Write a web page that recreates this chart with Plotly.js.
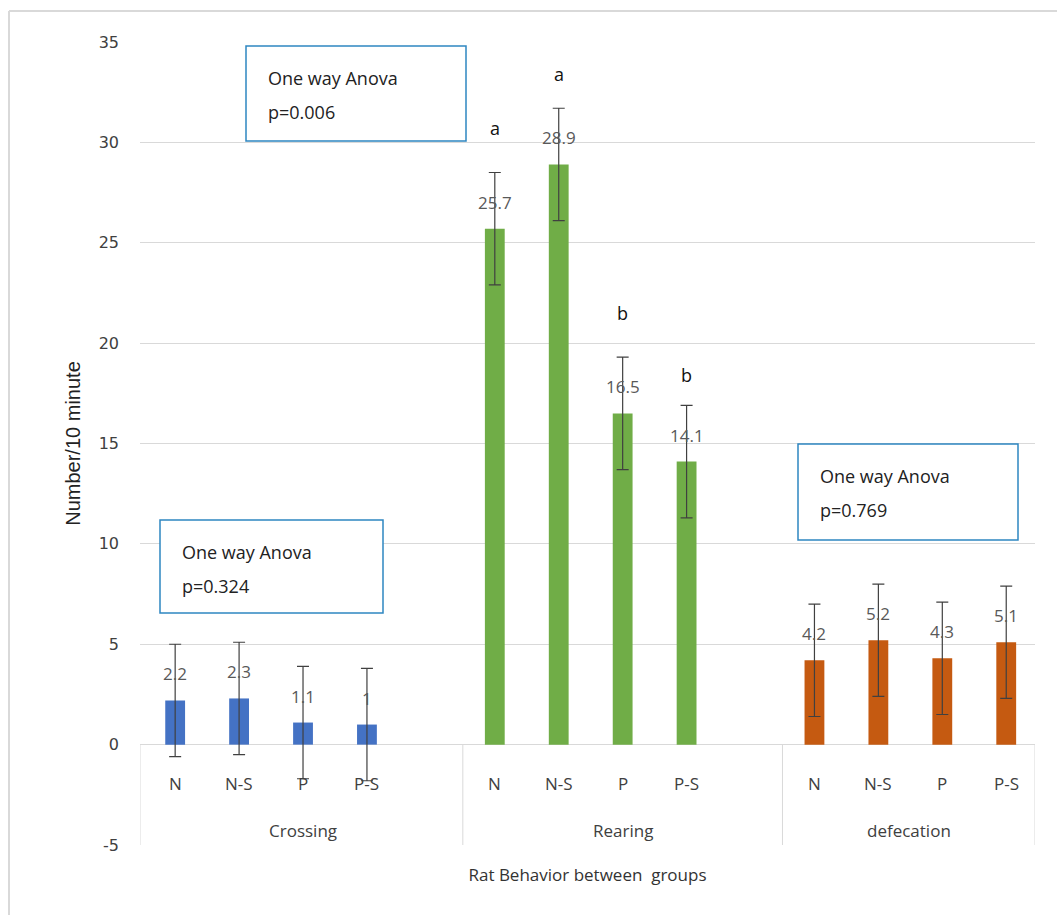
<!DOCTYPE html>
<html>
<head>
<meta charset="utf-8">
<script src="https://cdn.plot.ly/plotly-3.0.1.min.js"></script>
<style>html,body{margin:0;padding:0;background:#fff;}#chart{width:1057px;height:915px;}</style>
</head>
<body>
<div id="chart"></div>
<script>
// ---- data ----
var groups = ['Crossing', 'Rearing', 'defecation'];
var subgroups = ['N', 'N-S', 'P', 'P-S'];
var crossing = [2.2, 2.3, 1.1, 1];
var rearing = [25.7, 28.9, 16.5, 14.1];
var defecation = [4.2, 5.2, 4.3, 5.1];
var crossingErr = [2.8, 2.8, 2.8, 2.8];
var rearingErr = [2.8, 2.8, 2.8, 2.8];
var defecationErr = [2.8, 2.8, 2.8, 2.8];
var rearingLetters = ['a', 'a', 'b', 'b'];
var rearingLetterY = [30.7, 33.4, 21.5, 18.4];
var anovaP = ['0.324', '0.006', '0.769'];
var yTicks = [-5, 0, 5, 10, 15, 20, 25, 30, 35];
var yTickText = ['-5', '0', '5', '10', '15', '20', '25', '30', '35'];

// ---- layout helpers ----
var L = 140, R = 1035, T = 42, B = 845, W = 1057, H = 915;
function xp(px) { return (px - L) / (R - L); }
function yp(py) { return (B - py) / (B - T); }

var series = [crossing, rearing, defecation];
var errs = [crossingErr, rearingErr, defecationErr];
var colors = ['#4472C4', '#70AD47', '#C55A11'];
var slot = subgroups.length + 1;
var xr = [-0.55, 13.45];
var FONT = 'Open Sans, sans-serif';

var traces = [];
var annotations = [];
series.forEach(function (vals, g) {
  var xs = subgroups.map(function (s, i) { return g * slot + i; });
  traces.push({
    type: 'bar', x: xs, y: vals, width: 0.31,
    marker: { color: colors[g] },
    error_y: { type: 'data', array: errs[g], visible: true, color: '#404040', thickness: 1.2, width: 6 },
    hoverinfo: 'skip', showlegend: false
  });
  vals.forEach(function (v, i) {
    annotations.push({
      x: xs[i], y: v, xref: 'x', yref: 'y', text: String(v), showarrow: false,
      yanchor: 'bottom', yshift: 13, font: { family: FONT, size: 17, color: '#595959' }
    });
    annotations.push({
      x: xs[i], y: -1.94, xref: 'x', yref: 'y', text: subgroups[i], showarrow: false,
      font: { family: FONT, size: 17, color: '#404040' }
    });
  });
  var gl = Math.max(xr[0], g * slot - 0.5);
  var gr = Math.min(xr[1], (g + 1) * slot - 0.5);
  annotations.push({
    x: (gl + gr) / 2, y: -4.28, xref: 'x', yref: 'y', text: groups[g], showarrow: false,
    font: { family: FONT, size: 17, color: '#404040' }
  });
});
rearing.forEach(function (v, i) {
  annotations.push({
    x: slot + i, y: rearingLetterY[i], xref: 'x', yref: 'y', text: rearingLetters[i], showarrow: false,
    yanchor: 'middle', font: { family: FONT, size: 18, color: '#111' }
  });
});

// ANOVA boxes (pixel boxes -> paper)
var boxes = [[160, 520, 383, 613], [246, 46, 466, 141], [798, 444, 1018, 540]];
var shapes = [];
boxes.forEach(function (b, k) {
  shapes.push({ type: 'rect', xref: 'paper', yref: 'paper', x0: xp(b[0]), x1: xp(b[2]), y0: yp(b[3]), y1: yp(b[1]),
    line: { color: '#2E86C1', width: 1.5 }, fillcolor: 'rgba(255,255,255,1)', layer: 'above' });
  annotations.push({ xref: 'paper', yref: 'paper', x: xp(b[0] + 20), y: yp(b[1] + 32), xanchor: 'left', yanchor: 'middle',
    text: 'One way Anova', showarrow: false, font: { family: FONT, size: 18, color: '#222' } });
  annotations.push({ xref: 'paper', yref: 'paper', x: xp(b[0] + 20), y: yp(b[1] + 66), xanchor: 'left', yanchor: 'middle',
    text: 'p=' + anovaP[k], showarrow: false, font: { family: FONT, size: 18, color: '#222' } });
});

// category table lines
shapes.push({ type: 'line', xref: 'x', yref: 'y', x0: xr[0], x1: xr[0], y0: -5, y1: 0, line: { color: '#d9d9d9', width: 1 }, layer: 'below' });
shapes.push({ type: 'line', xref: 'x', yref: 'y', x0: xr[1], x1: xr[1], y0: -5, y1: 0, line: { color: '#d9d9d9', width: 1 }, layer: 'below' });
for (var g = 1; g < groups.length; g++) {
  shapes.push({ type: 'line', xref: 'x', yref: 'y', x0: g * slot - 0.5, x1: g * slot - 0.5, y0: -5, y1: 0, line: { color: '#d9d9d9', width: 1 }, layer: 'below' });
}
// outer chart border (top and left visible)
shapes.push({ type: 'line', xref: 'paper', yref: 'paper', x0: xp(9), x1: xp(W + 5), y0: yp(11), y1: yp(11), line: { color: '#d9d9d9', width: 2 } });
shapes.push({ type: 'line', xref: 'paper', yref: 'paper', x0: xp(9), x1: xp(9), y0: yp(11), y1: yp(H + 5), line: { color: '#d9d9d9', width: 2 } });

var layout = {
  width: W, height: H,
  margin: { l: L, r: W - R, t: T, b: H - B, pad: 0 },
  paper_bgcolor: '#fff', plot_bgcolor: '#fff',
  showlegend: false,
  xaxis: {
    range: xr, showgrid: false, zeroline: false, showticklabels: false, ticks: '', showline: false,
    title: { text: 'Rat Behavior between&nbsp; groups', standoff: 24, font: { family: FONT, size: 17, color: '#333' } }
  },
  yaxis: {
    range: [-5, 35], tickvals: yTicks, ticktext: yTickText, showgrid: true, gridcolor: '#d9d9d9', gridwidth: 1,
    zeroline: true, zerolinecolor: '#d9d9d9', zerolinewidth: 1, showline: false, ticks: '',
    ticklabelstandoff: 20,
    tickfont: { family: 'DejaVu Sans, sans-serif', size: 16, color: '#404040' },
    title: { text: 'Number/10 minute', standoff: 12, font: { family: 'Liberation Sans Narrow, Liberation Sans, sans-serif', size: 20, color: '#222' } }
  },
  annotations: annotations,
  shapes: shapes
};

Plotly.newPlot('chart', traces, layout, { displayModeBar: false, staticPlot: true });
</script>
</body>
</html>
